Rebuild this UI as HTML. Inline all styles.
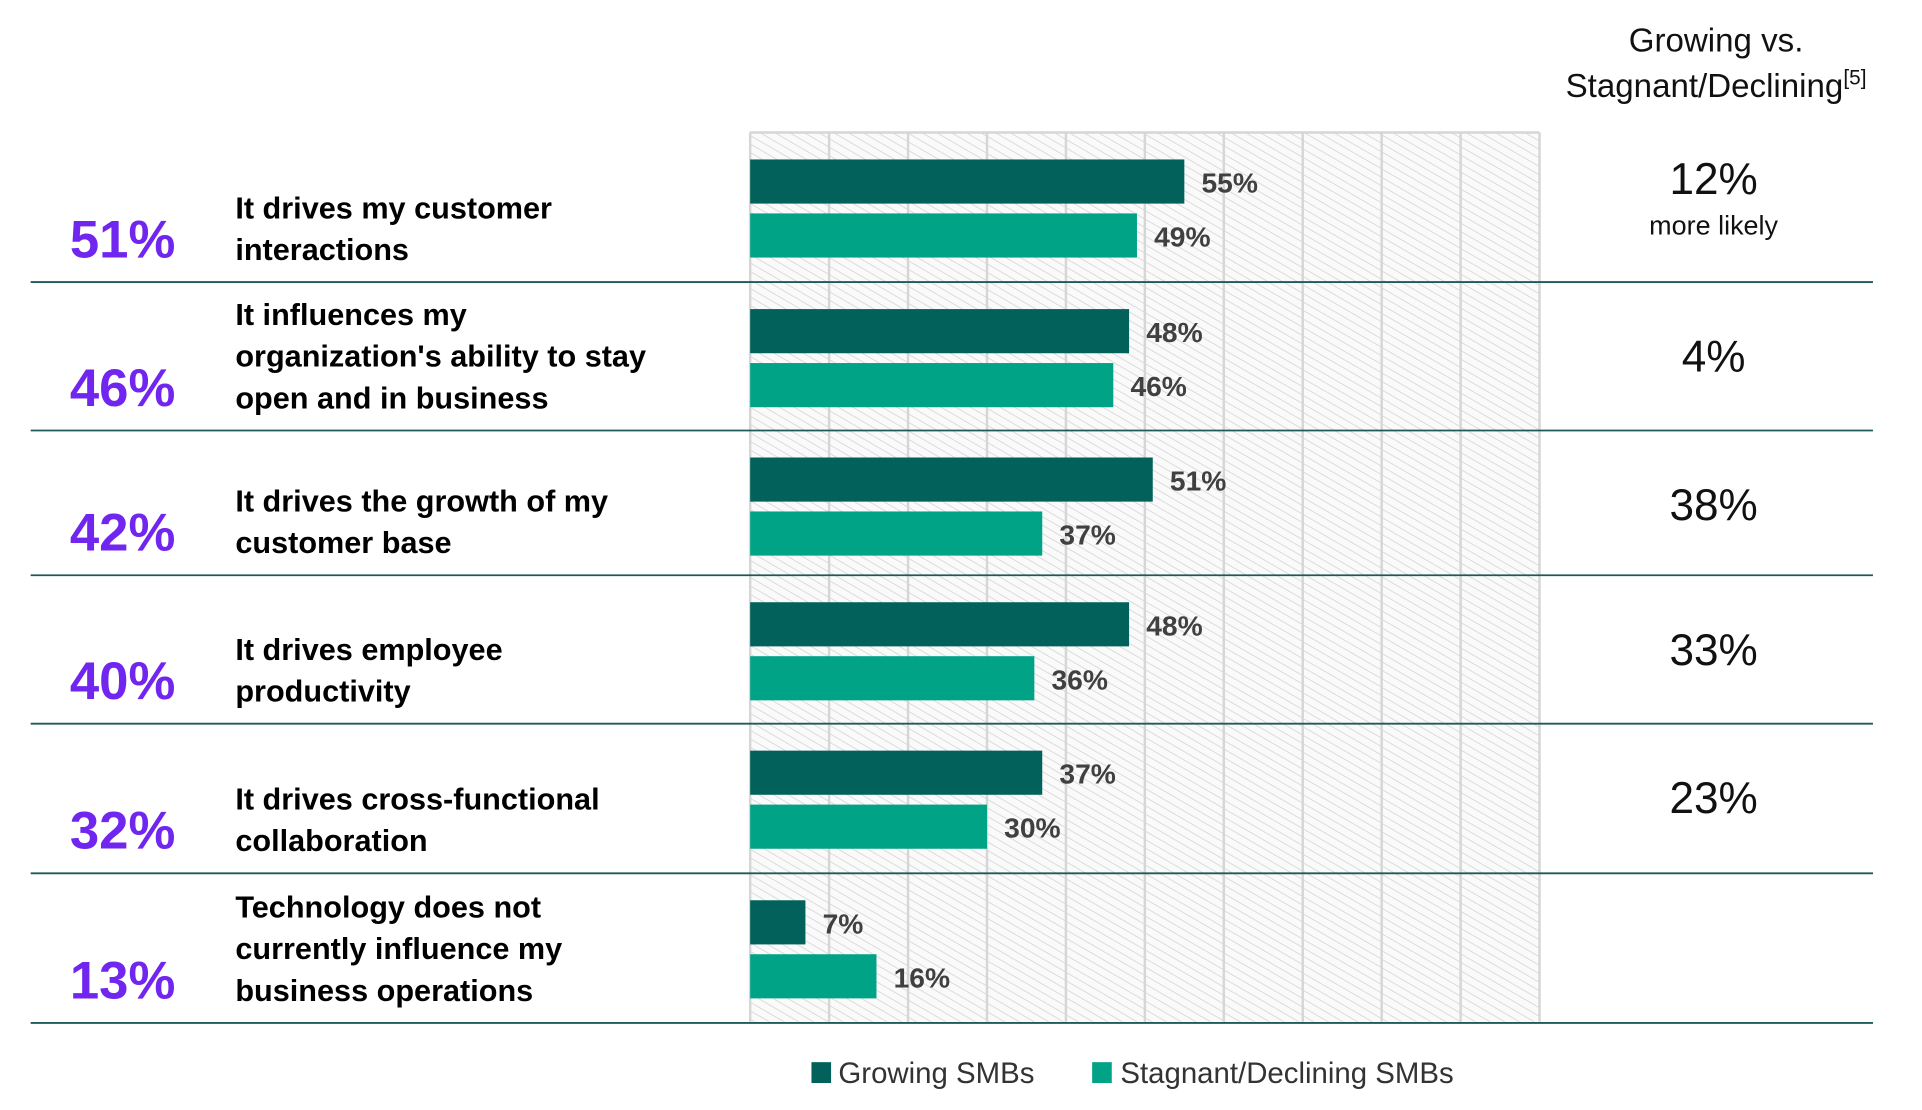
<!DOCTYPE html>
<html><head><meta charset="utf-8">
<style>
html,body{margin:0;padding:0;background:#fff;}
svg{display:block;}
text{font-family:"Liberation Sans",sans-serif;}
</style></head>
<body>
<svg id="chart" width="1922" height="1110" viewBox="0 0 1568 905" preserveAspectRatio="none" xmlns="http://www.w3.org/2000/svg">
<defs>
<pattern id="hatch" patternUnits="userSpaceOnUse" width="6" height="6" patternTransform="rotate(-60)">
<rect width="6" height="6" fill="#fafafa"/>
<line x1="0" y1="0" x2="0" y2="6" stroke="#d4d4d4" stroke-width="1.3"/>
</pattern>
</defs>
<g id="g"></g>
</svg>
<script>
const categories = [
  ["It drives my customer","interactions"],
  ["It influences my","organization's ability to stay","open and in business"],
  ["It drives the growth of my","customer base"],
  ["It drives employee","productivity"],
  ["It drives cross-functional","collaboration"],
  ["Technology does not","currently influence my","business operations"]
];
const overallValues = [51,46,42,40,32,13];
const growingValues = [55,48,51,48,37,7];
const stagnantValues = [49,46,37,36,30,16];
const comparisonLabels = ["12%","4%","38%","33%","23%",""];
const gridTicks = [0,10,20,30,40,50,60,70,80,90,100];

const NS="http://www.w3.org/2000/svg";
const g=document.getElementById('g');
const X0=612, X1=1256, PT=108, PB=833;
const rowTops=[108,230,351,469,590,712], rowBottom=834;
function x(v){return X0+(v/100)*(X1-X0);}
function rowTop(i){return rowTops[i];}
function rowBot(i){return i<5?rowTops[i+1]:rowBottom;}
function el(tag,attrs,txt){const e=document.createElementNS(NS,tag);for(const k in attrs)e.setAttribute(k,attrs[k]);if(txt!==undefined)e.textContent=txt;g.appendChild(e);return e;}

let e;
e=el('rect',{x:X0,y:PT,width:X1-X0,height:PB-PT,fill:'url(#hatch)'});


gridTicks.forEach(t=>{
  e=el('line',{x1:x(t),x2:x(t),y1:PT,y2:PB,stroke:'#d6d6d6','stroke-width':2});
  
  
});
e=el('line',{x1:X0,x2:X1,y1:PT,y2:PT,stroke:'#d6d6d6','stroke-width':2});



e=el('text',{x:1400,y:42,'text-anchor':'middle','font-size':27,fill:'#111'},'Growing vs.');


e=el('text',{x:1400,y:79,'text-anchor':'middle','font-size':27,fill:'#111'});
e.innerHTML='Stagnant/Declining<tspan font-size="17" dy="-10">[5]</tspan>';



categories.forEach((lines,i)=>{
  const top=rowTop(i), bot=rowBot(i);
  e=el('line',{x1:25,x2:1528,y1:bot,y2:bot,stroke:'#1f5a5a','stroke-width':1.5});
  
  
  e=el('text',{x:57,y:bot-35+15,'font-size':43,'font-weight':'bold',fill:'#7126f0'},overallValues[i]+'%');
  
  
  const last=bot-27;
  lines.forEach((ln,j)=>{
    const cy=last-(lines.length-1-j)*34;
    e=el('text',{x:192,y:cy+9,'font-size':25,'font-weight':'bold',fill:'#000'},ln);
    
    
  });
  const gv=growingValues[i], sv=stagnantValues[i];
  e=el('rect',{x:X0,y:top+22,width:x(gv)-X0,height:36,fill:'#02625b'});
  
  
  e=el('text',{x:x(gv)+14,y:top+22+27,'font-size':23,'font-weight':'bold',fill:'#404040'},gv+'%');
  
  
  e=el('rect',{x:X0,y:top+66,width:x(sv)-X0,height:36,fill:'#00a386'});
  
  
  e=el('text',{x:x(sv)+14,y:top+66+27,'font-size':23,'font-weight':'bold',fill:'#404040'},sv+'%');
  
  
  if(comparisonLabels[i]){
    const cy = i===0 ? top+37 : top+60;
    e=el('text',{x:1398,y:cy+13,'text-anchor':'middle','font-size':36,fill:'#111'},comparisonLabels[i]);
    
    
  }
});
e=el('text',{x:1398,y:191,'text-anchor':'middle','font-size':22,fill:'#111'},'more likely');



e=el('rect',{x:662,y:866,width:16,height:17,fill:'#02625b'});


e=el('text',{x:684,y:883,'font-size':24,fill:'#333'},'Growing SMBs');


e=el('rect',{x:891,y:866,width:16,height:17,fill:'#00a386'});


e=el('text',{x:914,y:883,'font-size':24,fill:'#333'},'Stagnant/Declining SMBs');


</script>
</body></html>
